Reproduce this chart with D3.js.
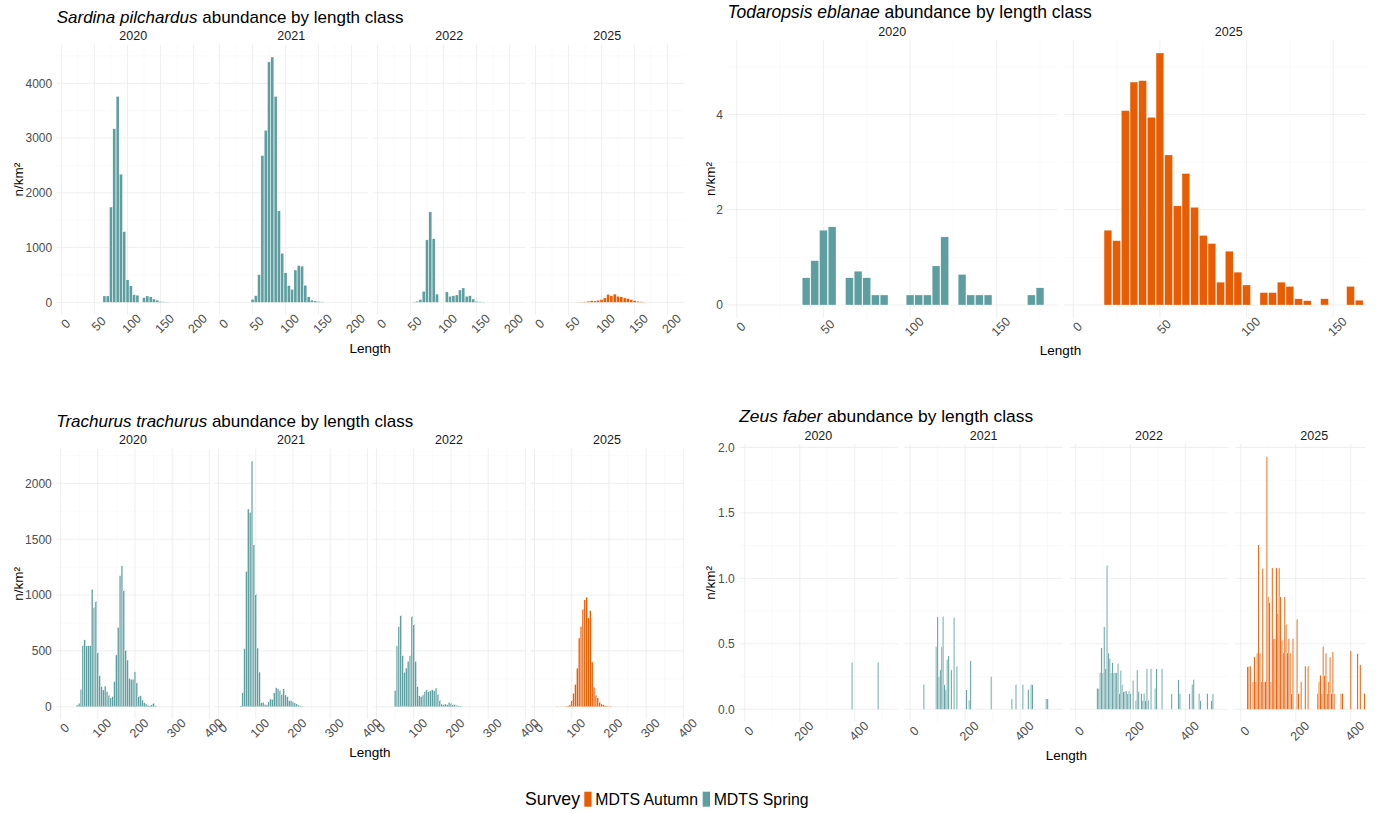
<!DOCTYPE html>
<html><head><meta charset="utf-8">
<script src="https://cdn.jsdelivr.net/npm/d3@7"></script>
<style>
body{margin:0;background:#fff;}
svg{font-family:"Liberation Sans", Arial, Helvetica, sans-serif;}
</style></head><body>
<svg id="chart" width="1381" height="814"></svg>
<script>
// ---------------- DATA ----------------
const years = ["2020", "2021", "2022", "2025"];
const yearsTod = ["2020", "2025"];
const surveys = ["MDTS Autumn", "MDTS Spring"];

// Sardina pilchardus (length class, n/km2)
const sar2020L = [65,70,75,80,85,90,95,100,105,110,115,125,130,135,140,145,150,155,160];
const sar2020V = [116,116,1740,3170,3760,2340,1290,410,300,140,130,85,116,100,60,40,15,10,5];
const sar2021L = [50,55,60,65,70,75,80,85,90,95,100,105,110,115,120,125,130,135,140,145,150,155];
const sar2021V = [55,120,505,2680,3140,4390,4480,3760,1670,895,540,305,237,590,670,660,310,100,40,25,15,8];
const sar2022L = [55,60,65,70,75,80,85,90,105,110,115,120,125,130,135,140,145,150,155,160];
const sar2022V = [5,20,50,200,1140,1650,1160,150,190,110,120,134,225,262,110,120,60,20,10,5];
const sar2025L = [65,70,75,80,85,90,95,100,105,110,115,120,125,130,135,140,145,150,155,160,165];
const sar2025V = [3,5,10,20,30,25,35,50,80,145,120,150,110,100,80,70,50,30,20,10,5];

// Todaropsis eblanae
const tod2020L = [40,45,50,55,65,70,75,80,85,100,105,110,115,120,130,135,140,145,170,175];
const tod2020V = [0.57,0.93,1.57,1.64,0.57,0.71,0.57,0.21,0.21,0.21,0.21,0.21,0.82,1.43,0.64,0.21,0.21,0.21,0.21,0.36];
const tod2025L = [20,25,30,35,40,45,50,55,60,65,70,75,80,85,90,95,100,110,115,120,125,130,135,145,160,165];
const tod2025V = [1.57,1.35,4.08,4.68,4.71,3.94,5.29,3.15,2.08,2.76,2.05,1.46,1.29,0.48,1.13,0.69,0.42,0.26,0.26,0.48,0.39,0.13,0.09,0.13,0.39,0.1];

// Trachurus trachurus
const tra2020L = [45,50,55,60,65,70,75,80,85,90,95,100,105,110,115,120,125,130,135,140,145,150,155,160,165,170,175,180,185,190,195,200,205,210,215,220,225,230,235,240,245,250,255];
const tra2020V = [15,30,155,550,600,545,545,545,1050,890,945,485,278,180,150,185,135,105,80,90,225,463,710,1173,1263,1042,505,418,254,245,245,313,215,90,98,60,36,24,15,10,24,30,9];
const tra2021L = [60,65,70,75,80,85,90,95,100,105,110,115,120,125,130,135,140,145,150,155,160,165,170,175,180,185,190,195,200,205,210,215,220,225];
const tra2021V = [10,130,520,1210,1770,1740,2200,1450,1010,525,310,35,40,20,20,50,70,65,125,170,160,145,115,160,105,90,55,55,45,35,25,15,8,3];
const tra2022L = [50,55,60,65,70,75,80,85,90,95,100,105,110,115,120,125,130,135,140,145,150,155,160,165,170,175,180,185,190,195,200,205,210,215,220,225,230];
const tra2022V = [145,546,720,820,457,307,346,406,457,810,740,406,182,98,90,105,137,152,134,143,152,143,167,113,60,24,18,24,18,39,33,24,18,12,9,6,3];
const tra2025L = [60,70,80,85,90,95,100,105,110,115,120,125,130,135,140,145,150,155,160,165,170,175,180,185,190,195,200,205];
const tra2025V = [2,2,3,3,5,20,60,120,200,345,615,720,875,958,980,795,860,400,175,105,80,40,24,18,9,5,3,3];

// Zeus faber
const zeu2020L = [390,485];
const zeu2020V = [0.36,0.36];
const zeu2021L = [50,95,100,105,110,115,120,125,130,135,140,150,160,170,205,215,220,295,370,385,410,430,440,445,495,500];
const zeu2021V = [0.19,0.48,0.71,0.25,0.30,0.48,0.71,0.19,0.15,0.38,0.41,0.30,0.70,0.33,0.15,0.07,0.37,0.25,0.08,0.19,0.19,0.15,0.19,0.19,0.08,0.08];
const zeu2022L = [80,85,90,95,100,105,110,115,120,125,130,135,140,145,150,155,160,165,170,175,180,185,190,195,200,210,220,225,230,240,245,250,255,260,265,275,290,295,315,350,375,380,415,425,430,450,455,480,495,500];
const zeu2022V = [0.16,0.16,0.28,0.47,0.28,0.63,0.31,1.10,0.43,0.39,0.28,0.36,0.28,0.28,0.28,0.35,0.12,0.30,0.19,0.14,0.14,0.14,0.12,0.14,0.12,0.22,0.07,0.30,0.14,0.12,0.07,0.12,0.07,0.31,0.07,0.31,0.16,0.31,0.31,0.12,0.23,0.12,0.12,0.19,0.23,0.12,0.07,0.12,0.07,0.12];
const zeu2025L = [25,30,35,45,50,55,60,65,70,75,80,85,90,95,100,105,110,115,120,125,130,135,140,145,150,155,160,165,170,175,180,185,190,205,210,220,235,245,280,285,290,295,300,305,310,315,320,325,330,335,340,365,370,400,425,435,450];
const zeu2025V = [0.33,0.33,0.33,0.21,0.40,0.21,0.43,1.26,0.43,0.21,1.08,0.21,0.21,1.93,0.86,0.82,0.21,1.08,0.54,0.54,1.08,0.73,1.08,0.86,0.53,0.43,0.86,0.65,0.43,0.54,0.43,0.12,0.54,0.69,0.12,0.21,0.33,0.33,0.12,0.21,0.26,0.12,0.48,0.26,0.43,0.12,0.21,0.40,0.12,0.44,0.12,0.12,0.12,0.45,0.43,0.34,0.12];

// Tick values
const sarXTicks = [0,50,100,150,200];
const sarYTicks = [0,1000,2000,3000,4000];
const todXTicks = [0,50,100,150];
const todYTicks = [0,2,4];
const traXTicks = [0,100,200,300,400];
const traYTicks = [0,500,1000,1500,2000];
const zeuXTicks = [0,200,400];
const zeuYTicks = [0,0.5,1,1.5,2];

// ---------------- STYLE ----------------
const TEAL = "#5F9EA0", ORANGE = "#E85D04";
const colorOf = {"MDTS Autumn": ORANGE, "MDTS Spring": TEAL};
const MAJOR = "#ebebeb", MINOR = "#f4f4f4";
const FONT = '"Liberation Sans", Arial, Helvetica, sans-serif';
const svg = d3.select("#chart");
const defs = svg.append("defs");

function minorBreaks(major, domain) {
  const step = major[1] - major[0];
  const c = [major[0] - step / 2].concat(major.map(m => m + step / 2));
  return c.filter(m => m > domain[0] && m < domain[1]);
}

function drawPlot(cfg) {
  const root = svg.append("g");
  if (cfg.clip) {
    defs.append("clipPath").attr("id", "clip-" + cfg.id).append("rect")
      .attr("x", cfg.clip[0]).attr("y", 0).attr("width", cfg.clip[1] - cfg.clip[0]).attr("height", 814);
    root.attr("clip-path", `url(#clip-${cfg.id})`);
  }
  const ymax = d3.max(cfg.facets, f => d3.max(f.values));
  const y = d3.scaleLinear().domain([-0.05 * ymax, 1.05 * ymax]).range([cfg.bottom, cfg.top]);
  const yMinor = minorBreaks(cfg.yTicks, y.domain());
  const xMinor = minorBreaks(cfg.xTicks, cfg.xDomain);
  const n = cfg.facets.length;
  const right = cfg.left + (n - 1) * cfg.spacing + cfg.width;

  // title
  const t = root.append("text").attr("x", cfg.left).attr("y", cfg.titleY)
    .attr("font-size", cfg.titleSize).attr("fill", "#000");
  t.append("tspan").attr("font-style", "italic").text(cfg.species);
  t.append("tspan").text(" abundance by length class");

  cfg.facets.forEach((f, i) => {
    const L = cfg.left + i * cfg.spacing;
    const x = d3.scaleLinear().domain(cfg.xDomain).range([L, L + cfg.width]);
    const pg = root.append("g");
    // grid
    pg.selectAll("line.ymin").data(yMinor).join("line").attr("class", "ymin")
      .attr("x1", L).attr("x2", L + cfg.width).attr("y1", d => y(d)).attr("y2", d => y(d))
      .attr("stroke", MINOR).attr("stroke-width", 0.5);
    pg.selectAll("line.xmin").data(xMinor).join("line").attr("class", "xmin")
      .attr("y1", cfg.top).attr("y2", cfg.bottom).attr("x1", d => x(d)).attr("x2", d => x(d))
      .attr("stroke", MINOR).attr("stroke-width", 0.5);
    pg.selectAll("line.ymaj").data(cfg.yTicks).join("line").attr("class", "ymaj")
      .attr("x1", L).attr("x2", L + cfg.width).attr("y1", d => y(d)).attr("y2", d => y(d))
      .attr("stroke", MAJOR).attr("stroke-width", 0.8);
    pg.selectAll("line.xmaj").data(cfg.xTicks).join("line").attr("class", "xmaj")
      .attr("y1", cfg.top).attr("y2", cfg.bottom).attr("x1", d => x(d)).attr("x2", d => x(d))
      .attr("stroke", MAJOR).attr("stroke-width", 0.8);
    // bars
    const half = cfg.bin * 0.45;
    pg.selectAll("rect.bar").data(d3.zip(f.lengths, f.values)).join("rect").attr("class", "bar")
      .attr("x", d => x(d[0] - half)).attr("width", d => x(d[0] + half) - x(d[0] - half))
      .attr("y", d => y(d[1])).attr("height", d => y(0) - y(d[1]))
      .attr("fill", colorOf[f.survey]).attr("stroke", "#fff").attr("stroke-width", 0.3);
    // strip
    pg.append("text").attr("x", L + cfg.width / 2).attr("y", cfg.stripY)
      .attr("text-anchor", "middle").attr("font-size", 12.5).attr("fill", "#1a1a1a").text(f.label);
    // x axis
    const ax = pg.append("g").attr("transform", `translate(0,${cfg.bottom})`)
      .call(d3.axisBottom(x).tickValues(cfg.xTicks).tickFormat(d3.format("d")).tickSize(0));
    ax.attr("font-family", null).attr("font-size", null);
    ax.select(".domain").remove();
    ax.selectAll(".tick text").attr("y", 0).attr("dy", "0.75em").attr("text-anchor", "middle")
      .attr("transform", "translate(0,5.5) rotate(-45)")
      .attr("font-size", 12.5).attr("fill", "#4d4d4d").attr("font-family", FONT);
  });

  // y axis
  const ay = root.append("g").attr("transform", `translate(${cfg.left},0)`)
    .call(d3.axisLeft(y).tickValues(cfg.yTicks).tickFormat(cfg.yFmt).tickSize(0).tickPadding(4.5));
  ay.attr("font-family", null).attr("font-size", null);
  ay.select(".domain").remove();
  ay.selectAll(".tick text").attr("font-size", 12).attr("fill", "#4d4d4d").attr("font-family", FONT);

  // axis titles
  root.append("text").attr("x", (cfg.left + right) / 2).attr("y", cfg.xTitleY)
    .attr("text-anchor", "middle").attr("font-size", 13.5).attr("fill", "#000").text("Length");
  root.append("text").attr("transform", `translate(${cfg.yTitleX},${(cfg.top + cfg.bottom) / 2}) rotate(-90)`)
    .attr("text-anchor", "middle").attr("dy", "0.35em").attr("font-size", 13.5).attr("fill", "#000").text("n/km²");
}

drawPlot({
  id: "sar", species: "Sardina pilchardus", bin: 5, titleSize: 17,
  left: 56.7, width: 153, spacing: 158, top: 44.75, bottom: 314.6,
  xDomain: [-7.3, 224.5], xTicks: sarXTicks, yTicks: sarYTicks, yFmt: d3.format("d"),
  titleY: 22.7, stripY: 40.2, xTitleY: 352.5, yTitleX: 18.3,
  facets: [
    {label: years[0], survey: surveys[1], lengths: sar2020L, values: sar2020V},
    {label: years[1], survey: surveys[1], lengths: sar2021L, values: sar2021V},
    {label: years[2], survey: surveys[1], lengths: sar2022L, values: sar2022V},
    {label: years[3], survey: surveys[0], lengths: sar2025L, values: sar2025V}
  ]
});

drawPlot({
  id: "tod", species: "Todaropsis eblanae", bin: 5, clip: [690, 1366], titleSize: 17.5,
  left: 727.5, width: 329.5, spacing: 336.5, top: 40.4, bottom: 317.6,
  xDomain: [-5.37, 184.8], xTicks: todXTicks, yTicks: todYTicks, yFmt: d3.format("d"),
  titleY: 18.3, stripY: 36, xTitleY: 355, yTitleX: 710,
  facets: [
    {label: yearsTod[0], survey: surveys[1], lengths: tod2020L, values: tod2020V},
    {label: yearsTod[1], survey: surveys[0], lengths: tod2025L, values: tod2025V}
  ]
});

drawPlot({
  id: "tra", species: "Trachurus trachurus", bin: 5, titleSize: 17,
  left: 56.3, width: 153.3, spacing: 158, top: 448.7, bottom: 719.0,
  xDomain: [-11.3, 400.5], xTicks: traXTicks, yTicks: traYTicks, yFmt: d3.format("d"),
  titleY: 426.7, stripY: 444.3, xTitleY: 756.5, yTitleX: 18,
  facets: [
    {label: years[0], survey: surveys[1], lengths: tra2020L, values: tra2020V},
    {label: years[1], survey: surveys[1], lengths: tra2021L, values: tra2021V},
    {label: years[2], survey: surveys[1], lengths: tra2022L, values: tra2022V},
    {label: years[3], survey: surveys[0], lengths: tra2025L, values: tra2025V}
  ]
});

drawPlot({
  id: "zeu", species: "Zeus faber", bin: 5, clip: [690, 1366], titleSize: 17.4,
  left: 739.2, width: 158.3, spacing: 165.3, top: 444, bottom: 721.9,
  xDomain: [-20.4, 555.2], xTicks: zeuXTicks, yTicks: zeuYTicks, yFmt: d3.format(".1f"),
  titleY: 422.2, stripY: 440, xTitleY: 760, yTitleX: 710,
  facets: [
    {label: years[0], survey: surveys[1], lengths: zeu2020L, values: zeu2020V},
    {label: years[1], survey: surveys[1], lengths: zeu2021L, values: zeu2021V},
    {label: years[2], survey: surveys[1], lengths: zeu2022L, values: zeu2022V},
    {label: years[3], survey: surveys[0], lengths: zeu2025L, values: zeu2025V}
  ]
});

// legend
const lg = svg.append("g");
lg.append("text").attr("x", 525).attr("y", 804.5).attr("font-size", 17.7).attr("fill", "#000").text("Survey");
const keyX = [584.3, 702.7];
surveys.forEach((s, i) => {
  lg.append("rect").attr("x", keyX[i]).attr("y", 791.7).attr("width", 7.3).attr("height", 15).attr("fill", colorOf[s]);
  lg.append("text").attr("x", keyX[i] + 11).attr("y", 804.5).attr("font-size", 15.8).attr("fill", "#000").text(s);
});
</script>
</body></html>
